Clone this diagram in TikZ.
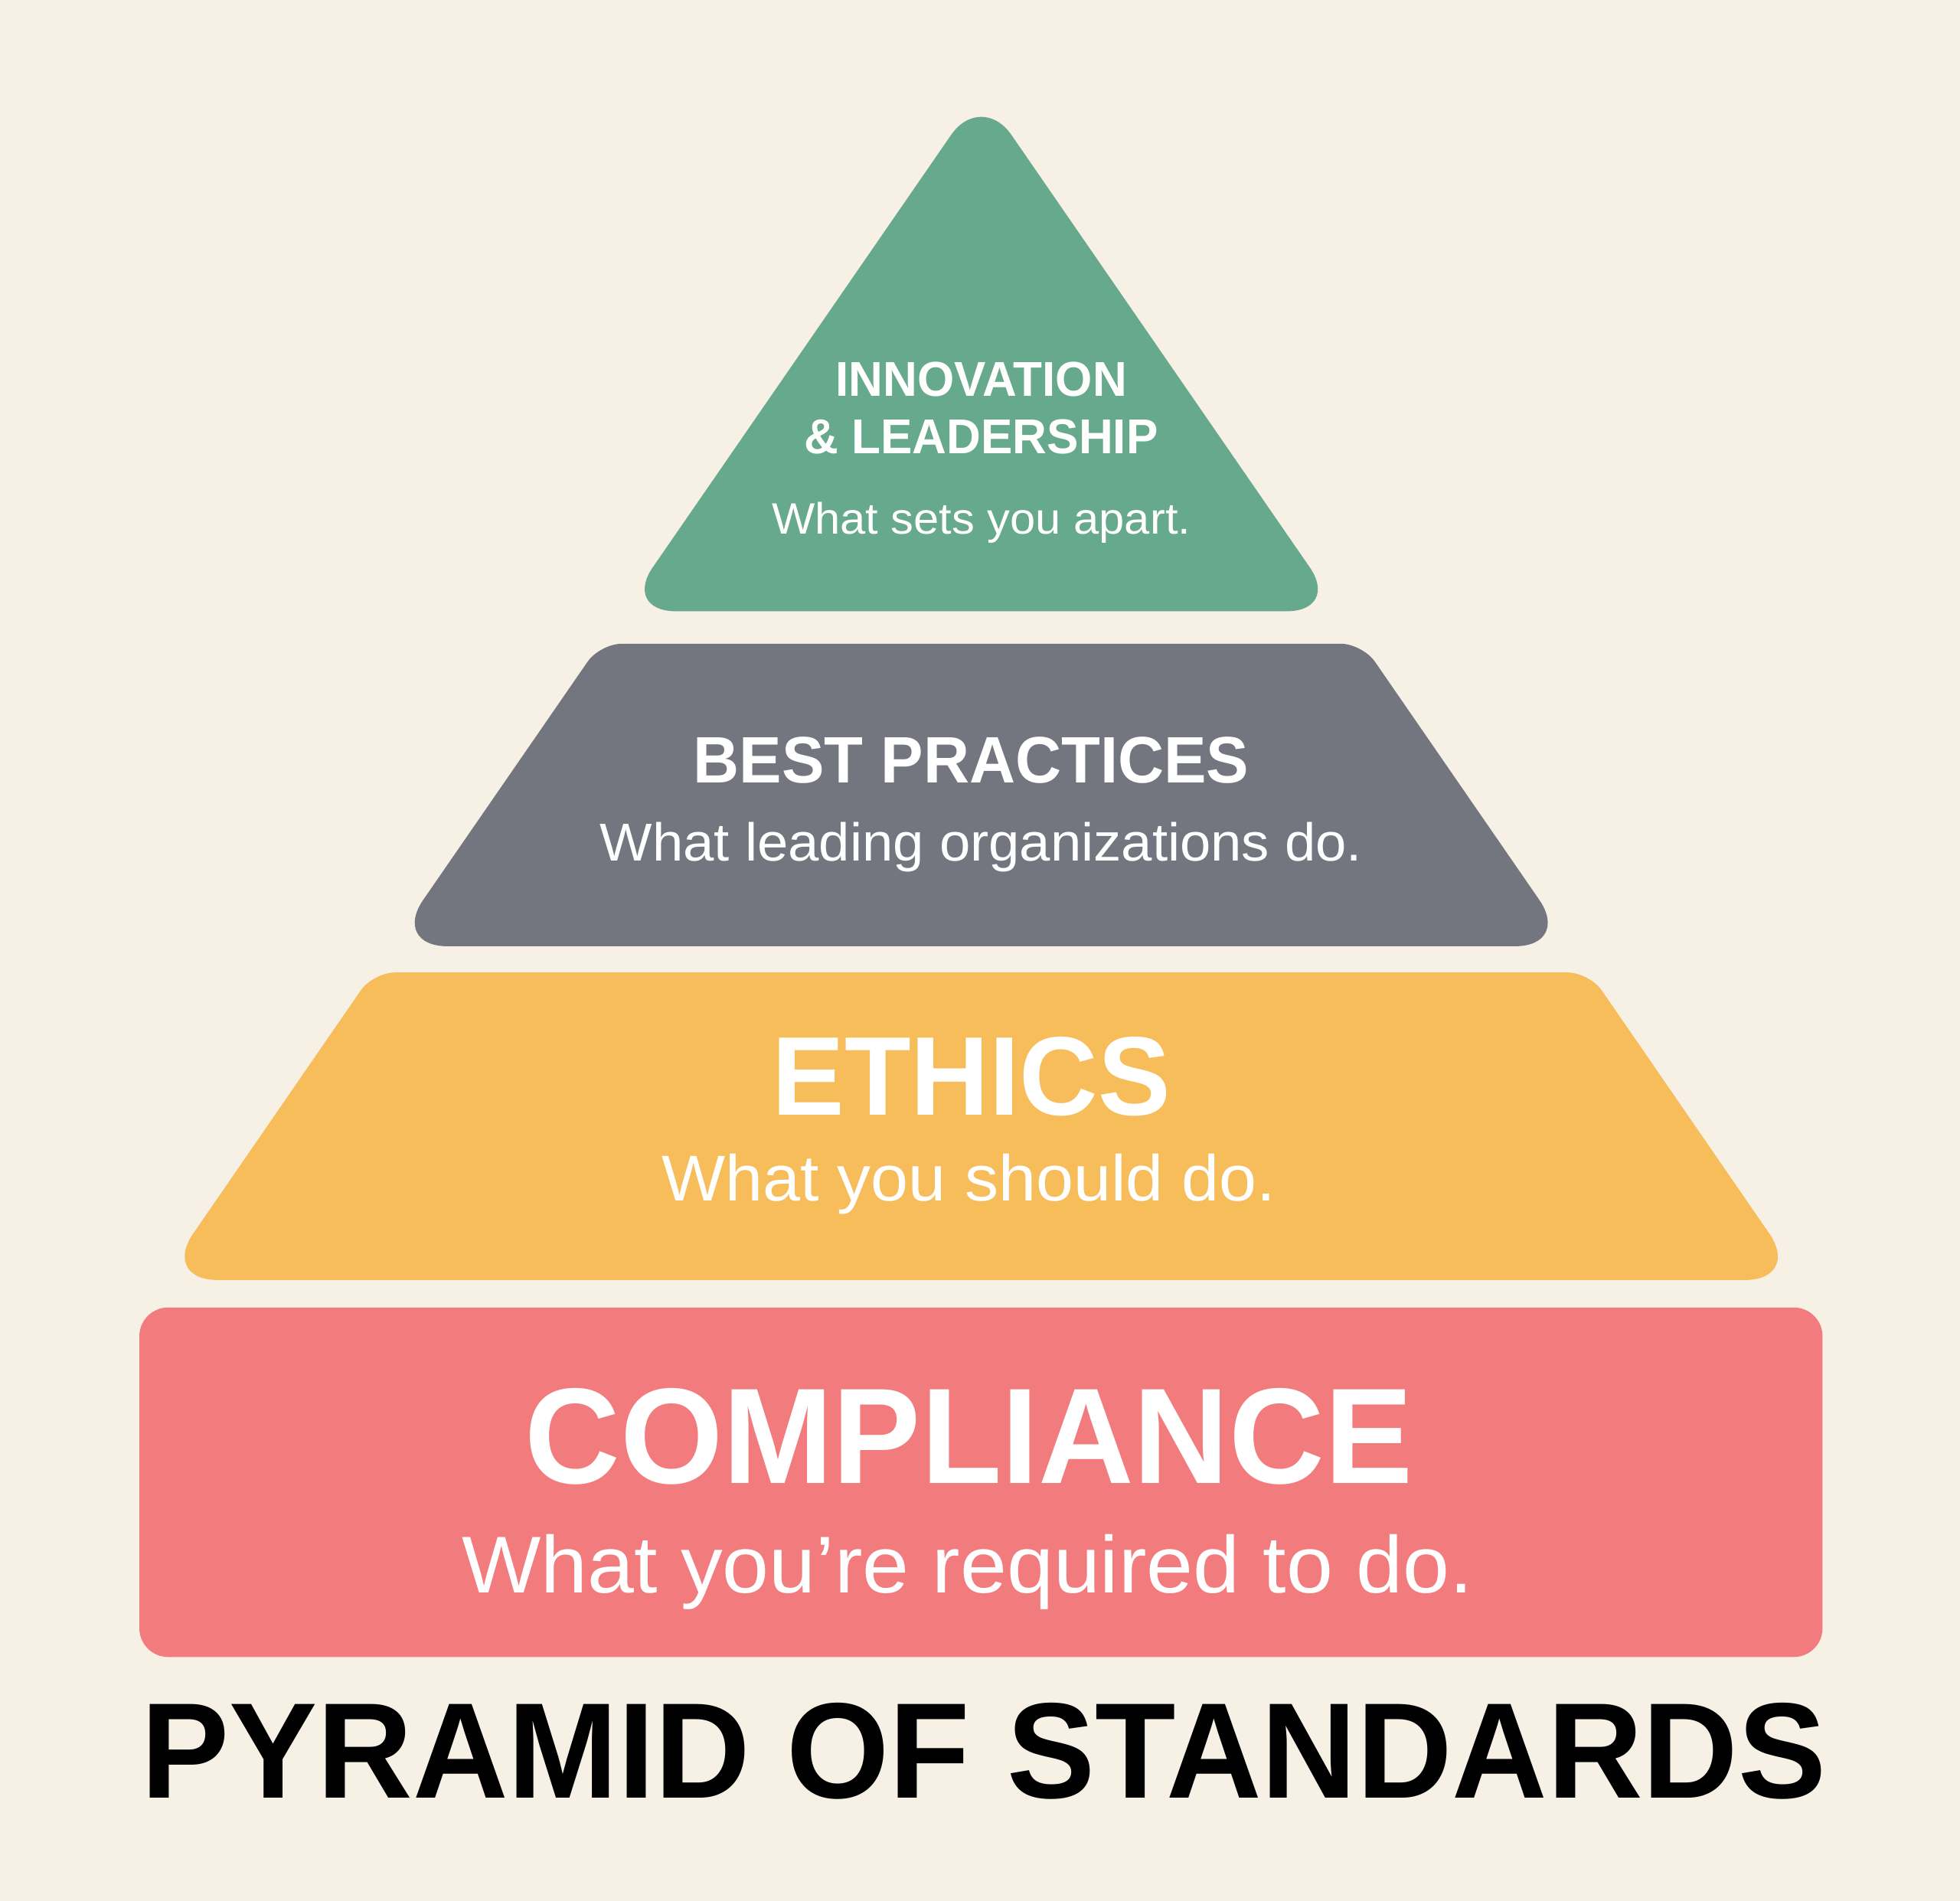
\documentclass[tikz,border=0pt]{standalone}
\usepackage{fontspec}
\setmainfont{Liberation Sans}[FakeStretch=1.04]
\newfontfamily\headfont{Liberation Sans}[FakeStretch=0.97]
\usetikzlibrary{positioning}
\definecolor{paper}{HTML}{F6F0E5}
\definecolor{innovgreen}{HTML}{67A98C}
\definecolor{bestgray}{HTML}{74767F}
\definecolor{ethicsyellow}{HTML}{F7BD5A}
\definecolor{complyred}{HTML}{F27C7D}
\newcommand{\fsz}[1]{\fontsize{#1pt}{#1pt}\selectfont}
\tikzset{
  tier/.style={fill=#1, draw=none},
  headtext/.style={
    text=white, anchor=base, inner sep=0pt,
    font=\headfont\bfseries\fsz{#1}
  },
  subtext/.style={
    text=white, anchor=base, inner sep=0pt,
    font=\fsz{#1}
  }
}

\begin{document}
\begin{tikzpicture}[x=0.02cm, y=-0.02cm]
          \fill[paper] (0,0) rectangle (1568,1520.6);

          % tiers, all on the sides of one big triangle
          \fill[tier=innovgreen, rounded corners=0.85cm]
            (785,73) -- (1072,489) -- (498,489) -- cycle;
          \fill[tier=bestgray]
            (785,515) [rounded corners=0.35cm] -- (1090,515)
            [rounded corners=0.9cm] -- (1257,757) -- (313,757)
            [rounded corners=0.35cm] -- (480,515) -- cycle;
          \fill[tier=ethicsyellow]
            (785,778) [rounded corners=0.35cm] -- (1271.5,778)
            [rounded corners=0.9cm] -- (1441,1024) -- (129,1024)
            [rounded corners=0.35cm] -- (298.5,778) -- cycle;
          \fill[tier=complyred, rounded corners=0.46cm]
            (111.5,1046) rectangle (1458,1325.6);

          \node[headtext=22.3] (innov) at (785,317) {INNOVATION};
          \node[headtext=22.3] (lead) at (785,363) {\& LEADERSHIP};
          \node[subtext=20] (apart) at (785,427) {What sets you apart.};

          \node[headtext=29.9] (best) at (777,626) {BEST PRACTICES};
          \node[subtext=24.3] (leading) at (785,689) {What leading organizations do.};

          \node[headtext=51] (ethics) at (777,892) {ETHICS};
          \node[subtext=29.5] (should) at (775,961) {What you should do.};

          \node[headtext=62] (comply) at (775,1187) {COMPLIANCE};
          \node[subtext=36.7] (required) at (774,1274) {What you’re required to do.};

          \node[headtext=62, text=black] (title) at (787,1438.5) {PYRAMID OF STANDARDS};
        \end{tikzpicture}
\end{document}
